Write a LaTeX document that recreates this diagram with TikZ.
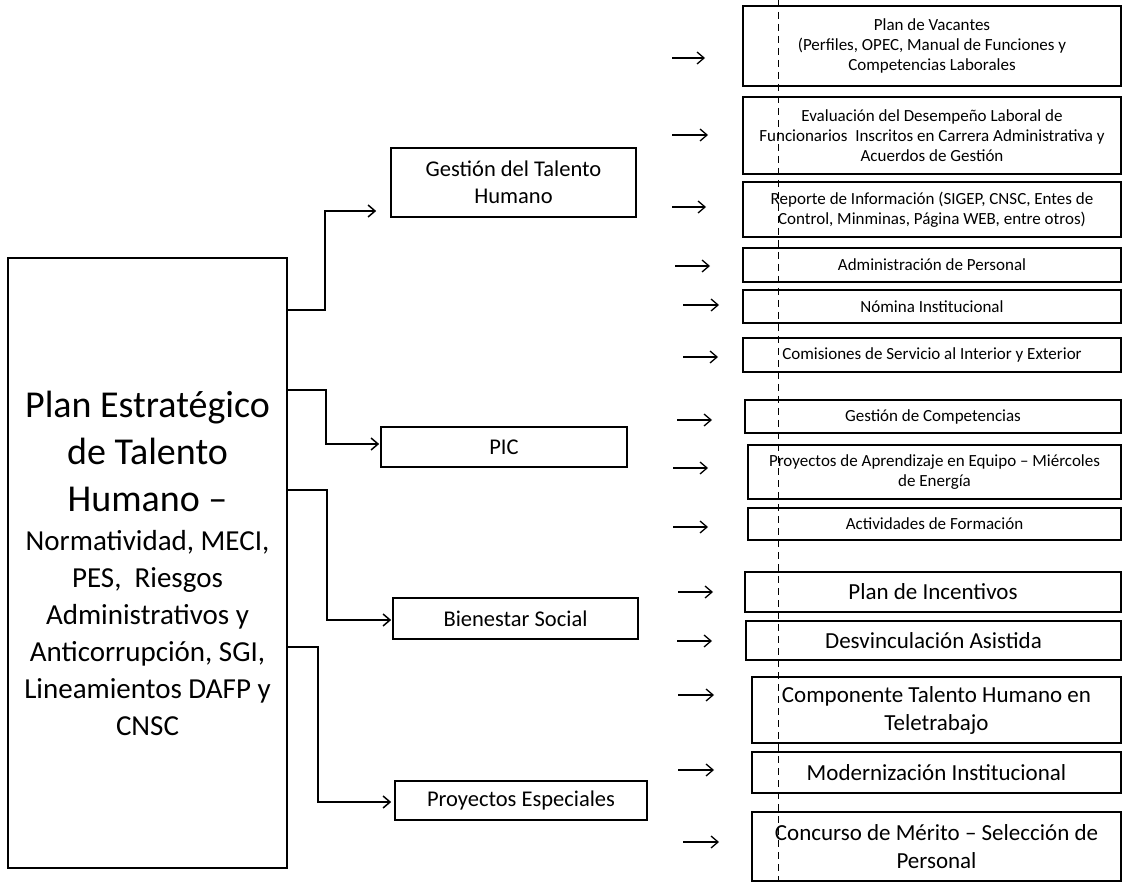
\documentclass[tikz,border=0pt]{standalone}
\usepackage{fontspec}
\setmainfont{Carlito}
\usetikzlibrary{arrows.meta}
\def\bigtxt{\fontsize{38}{47}\selectfont}
\def\smalltxt{\fontsize{17}{20}\selectfont}
\def\midtxt{\fontsize{22.5}{27}\selectfont}
\def\largetxt{\fontsize{23}{28}\selectfont}

\begin{document}
\begin{tikzpicture}[x=1pt,y=-1pt,>={Straight Barb[length=7pt,width=12pt]},
	box/.style={draw,line width=1.6pt,inner sep=0pt,align=center},
	link/.style={->,line width=1.5pt},
	free/.style={->,line width=1.3pt}]
\useasboundingbox (0,0) rectangle (1122,882);

% fold of the scanned page
\draw[line width=0.6pt,dash pattern=on 7pt off 5pt] (778,0) -- (778,882);

\node[box,minimum width=279pt,minimum height=610pt,font=\fontsize{29}{37}\selectfont] (plan) at (147.5,563)
	{{\bigtxt Plan Estratégico}\\[10pt]{\bigtxt de Talento}\\[10pt]{\bigtxt Humano –}\\[2pt]
	Normatividad, MECI,\\PES,~ Riesgos\\Administrativos y\\Anticorrupción, SGI,\\Lineamientos DAFP y\\CNSC};

% second level
\node[box,minimum width=245pt,minimum height=69pt,font=\midtxt] (gth) at (513.5,182.5) {Gestión del Talento\\Humano};
\node[box,minimum width=246pt,minimum height=40pt,font=\midtxt] (pic) at (504,447) {PIC};
\node[box,minimum width=245pt,minimum height=41pt,font=\midtxt] (bien) at (515.5,618.5) {Bienestar Social};
\node[box,minimum width=252pt,minimum height=39pt,font=\midtxt] (pe) at (521,800.5) {Proyectos Especiales};

\draw[link] (plan.east |- 0,310) -- (325,310) -- (325,211) -- ([xshift=-14pt]gth.west |- 0,211);
\draw[link] (plan.east |- 0,390) -- (326,390) -- (326,444) -- ([xshift=-1pt]pic.west |- 0,444);
\draw[link] (plan.east |- 0,490) -- (327,490) -- (327,620) -- ([xshift=-1pt]bien.west |- 0,620);
\draw[link] (plan.east |- 0,647) -- (318,647) -- (318,802) -- ([xshift=-3pt]pe.west |- 0,802);

% third level
\node[box,minimum width=378pt,minimum height=80pt,font=\smalltxt] (vac) at (932,46)
	{Plan de Vacantes\\(Perfiles, OPEC, Manual de Funciones y\\Competencias Laborales};
\node[box,minimum width=378pt,minimum height=77pt,font=\smalltxt] (eva) at (932,135.5)
	{Evaluación del Desempeño Laboral de\\Funcionarios~ Inscritos en Carrera Administrativa y\\Acuerdos de Gestión};
\node[box,minimum width=378pt,minimum height=55pt,font=\smalltxt] (rep) at (932,209.5)
	{Reporte de Información (SIGEP, CNSC, Entes de\\Control, Minminas, Página WEB, entre otros)};
\node[box,minimum width=378pt,minimum height=34pt,font=\smalltxt] (adm) at (932,265) {Administración de Personal};
\node[box,minimum width=378pt,minimum height=33pt,font=\smalltxt] (nom) at (932,306.5) {Nómina Institucional};
\node[box,minimum width=378pt,minimum height=34pt,font=\smalltxt] (com) at (932,355) {Comisiones de Servicio al Interior y Exterior};
\node[box,minimum width=376pt,minimum height=33pt,font=\smalltxt] (gcomp) at (933,416.5) {Gestión de Competencias};
\node[box,minimum width=373pt,minimum height=54pt,font=\smalltxt] (pae) at (934.5,472)
	{Proyectos de Aprendizaje en Equipo – Miércoles\\de Energía};
\node[box,minimum width=373pt,minimum height=32pt,font=\smalltxt] (act) at (934.5,524) {Actividades de Formación};
\node[box,minimum width=376pt,minimum height=40pt,font=\largetxt] (inc) at (933,592) {Plan de Incentivos};
\node[box,minimum width=375pt,minimum height=39pt,font=\largetxt] (desv) at (933.5,640.5) {Desvinculación Asistida};
\node[box,minimum width=369pt,minimum height=66pt,font=\largetxt] (tele) at (936.5,710)
	{Componente Talento Humano en\\Teletrabajo};
\node[box,minimum width=369pt,minimum height=41pt,font=\largetxt] (mod) at (936.5,772.5) {Modernización Institucional};
\node[box,minimum width=369pt,minimum height=69pt,font=\largetxt] (conc) at (936.5,846.5)
	{Concurso de Mérito – Selección de\\Personal};

\foreach \n/\y/\a/\b in {vac/58/672/705,eva/135/672/708,rep/207/672/706,adm/266/675/710,
	nom/305/683/719,com/357/683/718,gcomp/420/677/712,pae/468/673/708,act/527/673/708,
	inc/592/678/713,desv/641/677/712,tele/695/678/714,mod/770/678/714,conc/842/683/719}{
	\coordinate (\n-tail) at (\a,\y);
	\coordinate (\n-tip) at (\b,\y);
	\draw[free] (\n-tail) -- (\n-tip);
}
\end{tikzpicture}
\end{document}
